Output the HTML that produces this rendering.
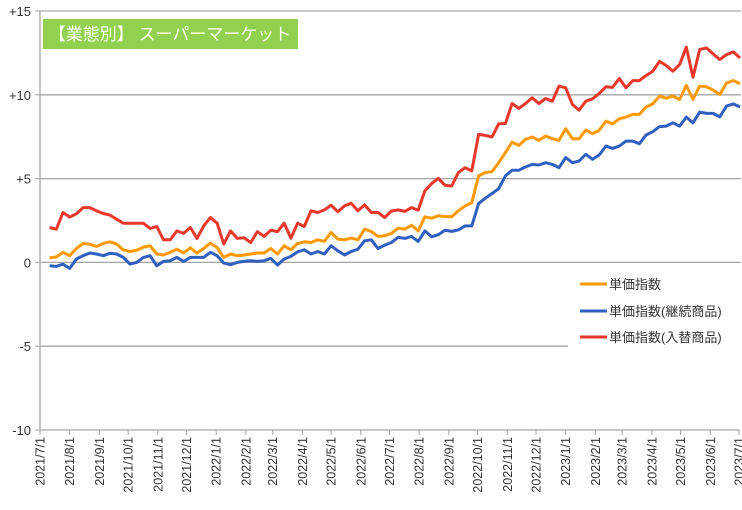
<!DOCTYPE html>
<html><head><meta charset="utf-8">
<style>
html,body{margin:0;padding:0;background:#fff;}
svg{display:block;font-family:"Liberation Sans","Noto Sans CJK JP",sans-serif;}
</style></head>
<body>
<svg id="chart" width="742" height="510" viewBox="0 0 742 510">
<g id="grid"></g>
<g id="yaxis"></g>
<g id="xaxis"></g>
<g id="series"></g>
<g>
  <rect x="43" y="19" width="255" height="30" fill="#92D050"/>
  <text x="170" y="40" text-anchor="middle" fill="#fff" font-size="17">【業態別】 スーパーマーケット</text>
</g>
<g>
  <rect x="568" y="268" width="174" height="82" fill="#fff"/>
  <g>
    <line x1="580" y1="284" x2="607" y2="284" stroke="#FF9900" stroke-width="3"/>
    <text x="609" y="289" font-size="13" fill="#333">単価指数</text>
  </g>
  <g>
    <line x1="580" y1="311" x2="607" y2="311" stroke="#2F5FBF" stroke-width="3"/>
    <text x="609" y="316" font-size="13" fill="#333">単価指数(継続商品)</text>
  </g>
  <g>
    <line x1="580" y1="337" x2="607" y2="337" stroke="#E8382C" stroke-width="3"/>
    <text x="609" y="342" font-size="13" fill="#333">単価指数(入替商品)</text>
  </g>
</g>
</svg>
<script>
const yTicks = [15, 10, 5, 0, -5, -10];
const yTickLabels = ["+15", "+10", "+5", "0", "-5", "-10"];
const monthLabels = ["2021/7/1","2021/8/1","2021/9/1","2021/10/1","2021/11/1","2021/12/1","2022/1/1","2022/2/1","2022/3/1","2022/4/1","2022/5/1","2022/6/1","2022/7/1","2022/8/1","2022/9/1","2022/10/1","2022/11/1","2022/12/1","2023/1/1","2023/2/1","2023/3/1","2023/4/1","2023/5/1","2023/6/1","2023/7/1"];
const firstWeekDate = "2021/7/11";
const weekStepDays = 7;
const unitPrice = [0.28,0.32,0.6,0.4,0.83,1.13,1.09,0.95,1.13,1.23,1.09,0.75,0.65,0.73,0.91,0.99,0.5,0.44,0.6,0.79,0.56,0.87,0.56,0.83,1.15,0.89,0.3,0.5,0.4,0.44,0.5,0.56,0.56,0.83,0.5,0.99,0.75,1.13,1.23,1.19,1.35,1.25,1.79,1.39,1.35,1.45,1.35,1.98,1.85,1.55,
1.59,1.73,2.04,1.98,2.22,1.88,2.72,2.64,2.78,2.74,2.72,3.08,3.37,3.57,5.16,5.36,5.42,5.95,6.55,7.18,6.98,7.34,7.48,7.28,7.54,7.38,7.28,7.98,7.38,7.38,7.9,7.68,7.88,8.43,8.27,8.57,8.67,8.83,8.83,9.27,9.46,9.92,9.8,9.92,9.72,10.56,9.72,10.52,10.48,10.28,10.02,10.71,10.85,10.67];
const continuing = [-0.2,-0.24,-0.1,-0.36,0.2,0.4,0.56,0.5,0.4,0.54,0.5,0.3,-0.1,0,0.3,0.4,-0.2,0.06,0.1,0.3,0.06,0.3,0.3,0.3,0.6,0.4,-0.04,-0.14,0,0.06,0.1,0.06,0.1,0.24,-0.16,0.2,0.36,0.63,0.75,0.5,0.65,0.5,0.99,0.69,0.44,0.65,0.79,1.29,1.35,0.83,
1.03,1.19,1.49,1.43,1.55,1.25,1.88,1.53,1.65,1.92,1.85,1.94,2.18,2.18,3.51,3.83,4.11,4.4,5.16,5.5,5.5,5.69,5.85,5.81,5.95,5.85,5.65,6.25,5.95,6.05,6.45,6.15,6.41,6.94,6.8,6.94,7.24,7.24,7.08,7.6,7.8,8.1,8.13,8.33,8.13,8.67,8.33,8.97,8.89,8.89,8.69,9.33,9.46,9.27];
const replaced = [2.08,1.98,2.98,2.7,2.9,3.27,3.27,3.08,2.92,2.82,2.58,2.34,2.34,2.34,2.34,2.02,2.14,1.35,1.35,1.88,1.73,2.08,1.43,2.18,2.68,2.34,1.09,1.88,1.43,1.47,1.19,1.83,1.55,1.92,1.83,2.34,1.45,2.34,2.14,3.08,2.98,3.13,3.41,3.02,3.37,3.53,3.08,3.43,2.98,2.98,
2.68,3.06,3.13,3.04,3.27,3.12,4.27,4.7,5.02,4.6,4.56,5.36,5.65,5.46,7.64,7.58,7.48,8.27,8.29,9.48,9.19,9.48,9.82,9.48,9.78,9.62,10.52,10.42,9.42,9.09,9.62,9.76,10.08,10.48,10.44,10.97,10.42,10.85,10.85,11.15,11.41,12.0,11.75,11.41,11.8,12.84,11.05,12.7,12.8,12.44,12.1,12.4,12.56,12.2];

const NS = "http://www.w3.org/2000/svg";
const PX0 = 40, PX1 = 739, PY0 = 11, PY1 = 430, YMIN = -10, YMAX = 15;
const d0 = Date.parse("2021/7/1"), d1 = Date.parse("2023/7/1");
function xScale(t) { return PX0 + (t - d0) / (d1 - d0) * (PX1 - PX0); }
function yScale(v) { return PY1 - (v - YMIN) / (YMAX - YMIN) * (PY1 - PY0); }
function mk(tag, attrs, parent) { const e = document.createElementNS(NS, tag); for (const k in attrs) e.setAttribute(k, attrs[k]); parent.appendChild(e); return e; }

const grid = document.getElementById("grid"), yaxis = document.getElementById("yaxis"), xaxis = document.getElementById("xaxis"), series = document.getElementById("series");
yTicks.forEach((v, i) => {
  const y = yScale(v);
  if (v !== YMIN) {
    const g = mk("line", {x1: PX0, x2: PX1 + 2, y1: y, y2: y, stroke: "#A6A6A6", "stroke-width": 1.3}, grid);
    
    
  }
  const t = mk("text", {x: 31, y: y + 5, "text-anchor": "end", "font-size": 13, fill: "#333"}, yaxis);
  t.textContent = yTickLabels[i];
  
  
  const tk = mk("line", {x1: 35, x2: PX0, y1: y, y2: y, stroke: "#A6A6A6", "stroke-width": 1}, yaxis);
  
  
});
const ax = mk("line", {x1: PX0, x2: PX0, y1: PY0, y2: PY1, stroke: "#A6A6A6", "stroke-width": 1.3}, yaxis);


const bx = mk("line", {x1: PX0, x2: PX1, y1: PY1, y2: PY1, stroke: "#A6A6A6", "stroke-width": 1.3}, xaxis);


monthLabels.forEach(lbl => {
  const x = xScale(Date.parse(lbl));
  const tk = mk("line", {x1: x, x2: x, y1: PY1, y2: PY1 + 5, stroke: "#A6A6A6", "stroke-width": 1}, xaxis);
  
  
  const t = mk("text", {x: 0, y: 0, "text-anchor": "end", "font-size": 12.5, fill: "#333", transform: `translate(${x + 4.5},${PY1 + 7}) rotate(-90)`}, xaxis);
  t.textContent = lbl;
  
  
});
const start = Date.parse(firstWeekDate);
function drawLine(vals, color, name) {
  const pts = vals.map((v, i) => xScale(start + i * weekStepDays * 86400000).toFixed(1) + "," + yScale(v).toFixed(1)).join(" ");
  const p = mk("polyline", {points: pts, fill: "none", stroke: color, "stroke-width": 3, "stroke-linejoin": "round"}, series);
  
  
}
drawLine(unitPrice, "#FF9900", "line-unit-price");
drawLine(continuing, "#2F5FBF", "line-continuing-items");
drawLine(replaced, "#E8382C", "line-replaced-items");
</script>
</body></html>
